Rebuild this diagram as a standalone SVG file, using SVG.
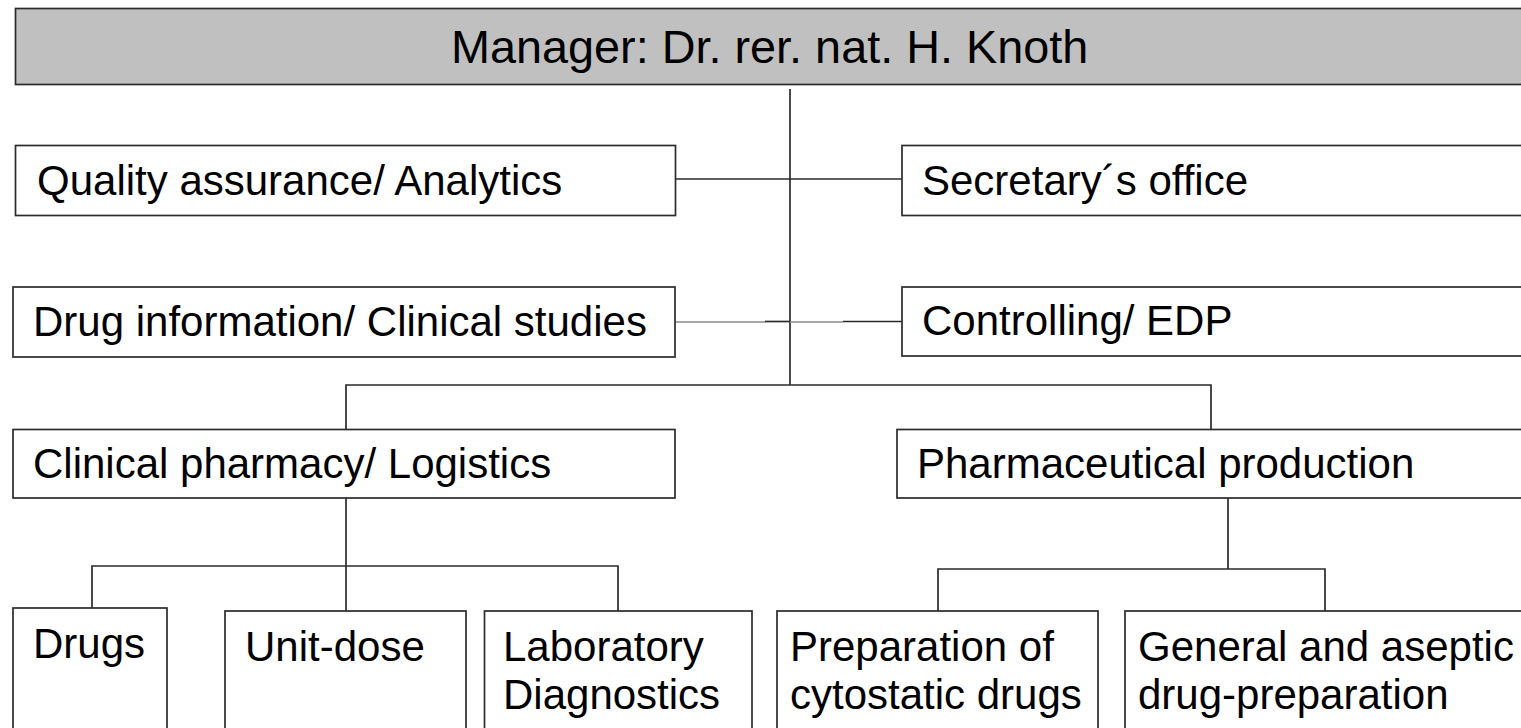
<svg xmlns="http://www.w3.org/2000/svg" width="1521" height="728" viewBox="0 0 1521 728">
  <style>
    .box { fill: #ffffff; stroke: #2b2b2b; stroke-width: 1.7; }
    .head { fill: #c0c0c0; stroke: #2b2b2b; stroke-width: 1.7; }
    .lbl { font-family: "Liberation Sans", Arial, sans-serif; font-size: 42px; fill: #000000; }
    .title { font-family: "Liberation Sans", Arial, sans-serif; font-size: 46.8px; fill: #000000; }
    .wire { fill: none; stroke: #2b2b2b; stroke-width: 1.7; }
    .wire-light { fill: none; stroke: #8a8a8a; stroke-width: 1.7; }
  </style>
  <rect width="1521" height="728" fill="#ffffff"/>

  <!-- connectors -->
  <g id="connectors">
    <!-- main trunk -->
    <line class="wire" x1="790" y1="89" x2="790" y2="385"/>
    <!-- staff positions -->
    <line class="wire" x1="675" y1="179" x2="902" y2="179"/>
    <line class="wire-light" x1="675" y1="322" x2="765" y2="322"/>
    <line class="wire" x1="765" y1="321.5" x2="790" y2="321.5"/>
    <line class="wire-light" x1="790" y1="322" x2="843" y2="322"/>
    <line class="wire" x1="843" y1="321.5" x2="902" y2="321.5"/>
    <!-- departments -->
    <polyline class="wire" points="346,429 346,385 1211,385 1211,429"/>
    <!-- clinical pharmacy branches -->
    <line class="wire" x1="346" y1="498" x2="346" y2="611"/>
    <polyline class="wire" points="92,608 92,566 618,566 618,611"/>
    <!-- pharmaceutical production branches -->
    <line class="wire" x1="1228" y1="498" x2="1228" y2="569"/>
    <polyline class="wire" points="938,611 938,569 1325,569 1325,611"/>
  </g>

  <g id="manager">
    <rect class="head" x="15.5" y="8.5" width="1520" height="76"/>
    <text class="title" x="451" y="63">Manager: Dr. rer. nat. H. Knoth</text>
  </g>

  <g id="quality-assurance">
    <rect class="box" x="15.5" y="145.5" width="660" height="70"/>
    <text class="lbl" x="37" y="195">Quality assurance/ Analytics</text>
  </g>

  <g id="secretary">
    <rect class="box" x="902" y="145.5" width="630" height="70"/>
    <text class="lbl" x="922" y="195">Secretary´s office</text>
  </g>

  <g id="drug-information">
    <rect class="box" x="13" y="287" width="662" height="70"/>
    <text class="lbl" x="33" y="336">Drug information/ Clinical studies</text>
  </g>

  <g id="controlling">
    <rect class="box" x="902" y="287" width="630" height="69"/>
    <text class="lbl" x="922" y="335">Controlling/ EDP</text>
  </g>

  <g id="clinical-pharmacy">
    <rect class="box" x="13" y="429.5" width="662" height="68.5"/>
    <text class="lbl" x="33" y="478">Clinical pharmacy/ Logistics</text>
  </g>

  <g id="pharmaceutical-production">
    <rect class="box" x="897" y="429.5" width="635" height="68.5"/>
    <text class="lbl" x="917" y="478">Pharmaceutical production</text>
  </g>

  <g id="drugs">
    <rect class="box" x="13" y="608" width="154" height="140"/>
    <text class="lbl" x="33" y="658">Drugs</text>
  </g>

  <g id="unit-dose">
    <rect class="box" x="225" y="611" width="241" height="140"/>
    <text class="lbl" x="245" y="661">Unit-dose</text>
  </g>

  <g id="laboratory-diagnostics">
    <rect class="box" x="484.5" y="611" width="267.5" height="140"/>
    <text class="lbl" x="503" y="661">Laboratory</text>
    <text class="lbl" x="503" y="709">Diagnostics</text>
  </g>

  <g id="cytostatic-preparation">
    <rect class="box" x="777" y="611" width="321" height="140"/>
    <text class="lbl" x="790" y="661">Preparation of</text>
    <text class="lbl" x="790" y="709">cytostatic drugs</text>
  </g>

  <g id="aseptic-preparation">
    <rect class="box" x="1125" y="611" width="410" height="140"/>
    <text class="lbl" x="1138" y="661">General and aseptic</text>
    <text class="lbl" x="1138" y="709">drug-preparation</text>
  </g>
</svg>
